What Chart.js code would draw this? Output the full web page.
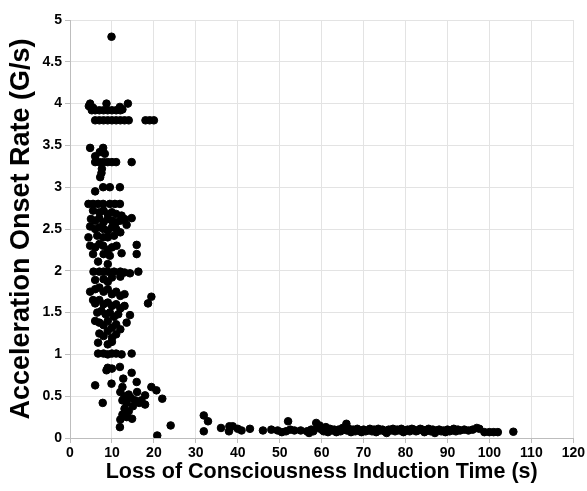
<!DOCTYPE html>
<html>
<head>
<meta charset="utf-8">
<script src="https://cdn.jsdelivr.net/npm/chart.js@4.4.1/dist/chart.umd.min.js"></script>
<style>
  html, body { margin: 0; padding: 0; background: #fff; }
  #wrap { width: 587px; height: 491px; }
</style>
</head>
<body>
<div id="wrap"><canvas id="myChart"></canvas></div>
<script>
// Eixos
const xTicks = [0, 10, 20, 30, 40, 50, 60, 70, 80, 90, 100, 110, 120]
const yTicks = [0, 0.5, 1, 1.5, 2, 2.5, 3, 3.5, 4, 4.5, 5]

// Punts [temps LOC (s), ritme d'acceleració (G/s)] llegits del gràfic
const clusterHigh = [
    [9.9, 4.8],
    [4.8, 4.0], [8.7, 4.0], [13.8, 4.0], [11.9, 3.96], [5.5, 3.95], [4.5, 3.97],
    [5.2, 3.92], [6, 3.92], [7, 3.92], [8, 3.92], [9, 3.92], [10, 3.92], [11, 3.92], [12, 3.92], [12.5, 3.93],
    [6, 3.8], [7, 3.8], [8, 3.8], [9, 3.8], [10, 3.8], [11, 3.8], [12, 3.8], [13, 3.8], [14, 3.8],
    [18, 3.8], [19, 3.8], [20, 3.8],
    [4.8, 3.47], [7.9, 3.47], [7.1, 3.42], [6, 3.37], [8.3, 3.4],
    [6, 3.3], [7, 3.3], [8, 3.3], [9, 3.3], [10, 3.3], [11, 3.3], [14.7, 3.3],
    [7.5, 3.17], [7.6, 3.22], [7.2, 3.12],
    [7.9, 3.0], [9.5, 3.0], [11.9, 3.0], [6, 2.95]
]

const clusterMid = [
    [4.4, 2.8], [5.5, 2.8], [6.7, 2.8], [7.9, 2.8], [9.5, 2.8], [10.7, 2.8], [11.9, 2.8],
    [5.5, 2.72], [7, 2.7], [8, 2.72], [9, 2.68], [10, 2.7], [11, 2.68], [12.3, 2.66], [14.7, 2.63],
    [5, 2.62], [6, 2.6], [7, 2.63], [8, 2.58], [9, 2.62], [10, 2.6], [11, 2.58], [12, 2.6], [13, 2.62],
    [4.8, 2.53], [6, 2.5], [7, 2.52], [8, 2.5], [9, 2.48], [10, 2.52], [11, 2.5], [12, 2.46], [13.5, 2.55],
    [4.4, 2.4], [6.5, 2.42], [7.9, 2.4], [9, 2.4], [10.5, 2.42],
    [4.8, 2.3], [6, 2.28], [7, 2.32], [7.9, 2.3], [9, 2.25], [10, 2.28], [11.1, 2.3], [12.3, 2.21],
    [15.9, 2.31], [15.9, 2.2], [5.5, 2.2], [8, 2.2], [9.5, 2.18],
    [6.7, 2.11], [9, 2.08],
    [5.6, 1.99], [7, 1.99], [8, 1.99], [9, 1.99], [10.5, 1.99], [12, 1.99], [13, 1.98], [14.3, 1.97], [16.3, 1.99],
    [6, 1.89], [8, 1.9], [9, 1.87], [12, 1.93], [10, 1.92],
    [4.8, 1.75], [6, 1.78], [7, 1.8], [8, 1.75], [9, 1.78], [10, 1.72], [11, 1.75], [12, 1.7], [13, 1.72],
    [19.4, 1.69], [18.6, 1.61],
    [5.5, 1.65], [6, 1.61], [7, 1.65], [8, 1.6], [9, 1.62], [10, 1.58], [11, 1.6], [12, 1.55], [13, 1.58],
    [6.5, 1.5], [7.5, 1.52], [8.5, 1.48], [9.5, 1.5], [10.5, 1.45], [11.5, 1.48], [14.3, 1.47],
    [6, 1.4], [7, 1.38], [8, 1.35], [9, 1.4], [10, 1.32], [11, 1.36], [12, 1.3], [13.5, 1.38],
    [7, 1.25], [8, 1.22], [9, 1.28], [10, 1.2], [11, 1.24], [6.7, 1.14], [9, 1.12], [10, 1.15],
    [6.7, 1.01], [8, 1.01], [9, 1.0], [10, 1.01], [11, 1.01], [12.3, 1.0], [14.7, 1.01]
]

const clusterLow = [
    [9, 0.84], [10, 0.83], [11.9, 0.85], [8.7, 0.81], [14.7, 0.78], [12.7, 0.71], [15.9, 0.67],
    [6, 0.63], [9.9, 0.65], [12.5, 0.61], [19.4, 0.61], [20.6, 0.57], [22, 0.47], [7.8, 0.42],
    [17.9, 0.51], [17.9, 0.4], [17, 0.45], [16, 0.55],
    [12, 0.55], [13, 0.5], [14, 0.52], [12.5, 0.45], [13.5, 0.42], [14.5, 0.48], [15, 0.38],
    [13, 0.35], [14, 0.32], [12.5, 0.28], [13.5, 0.25], [12, 0.22], [14.8, 0.23], [11.9, 0.13],
    [15.5, 0.45], [16.5, 0.42],
    [20.8, 0.03], [24, 0.15]
]

const tail = [
    [31.9, 0.27], [32.9, 0.2], [31.9, 0.08], [36, 0.12], [38, 0.14], [38.8, 0.14], [37.9, 0.08],
    [40, 0.11], [40.9, 0.09], [42.9, 0.11], [46, 0.09], [48, 0.1], [49.5, 0.09], [50.5, 0.07],
    [51.5, 0.08], [52, 0.2], [52.5, 0.1], [53.5, 0.09], [55, 0.09], [56.5, 0.08], [57, 0.06],
    [57.5, 0.1], [58, 0.08], [58.7, 0.18], [59, 0.12], [59.5, 0.15], [60, 0.1], [60.5, 0.08],
    [61, 0.13], [61.5, 0.07], [62, 0.11], [62.5, 0.09], [63, 0.1], [63.5, 0.07], [64, 0.1],
    [64.5, 0.08], [65, 0.12], [65.9, 0.17], [66, 0.09], [66.5, 0.11], [67, 0.07], [67.5, 0.1],
    [68, 0.08], [68.5, 0.11], [69, 0.09], [69.5, 0.07], [70, 0.1], [70.5, 0.08], [71, 0.09],
    [71.5, 0.11], [72, 0.08], [72.5, 0.1], [73, 0.07], [73.5, 0.11], [74, 0.09], [74.5, 0.1],
    [75, 0.08], [75.5, 0.06], [76, 0.1], [76.5, 0.09], [77, 0.11], [77.5, 0.08], [78, 0.1],
    [78.5, 0.09], [79, 0.11], [79.5, 0.07], [80, 0.09], [80.5, 0.1], [81, 0.08], [81.5, 0.11],
    [82, 0.1], [82.5, 0.08], [83, 0.09], [83.5, 0.11], [84, 0.1], [84.5, 0.07], [85, 0.09],
    [85.5, 0.11], [86, 0.08], [86.5, 0.1], [87, 0.06], [87.5, 0.09], [88, 0.1], [88.5, 0.08],
    [89, 0.09], [89.5, 0.07], [90, 0.1], [90.5, 0.08], [91, 0.09], [91.5, 0.11], [92, 0.08],
    [92.5, 0.1], [93, 0.09], [94, 0.1], [95, 0.09], [96, 0.1], [97, 0.12], [97.6, 0.11],
    [98.8, 0.07], [100, 0.07], [101, 0.07], [102, 0.07], [105.7, 0.075]
]

const xTitle = 'Loss of Consciousness Induction Time (s)'
const yTitle = 'Acceleration Onset Rate (G/s)'

const toPoints = (list) => list.map(p => ({ x: p[0], y: p[1] }))
const allPoints = [...clusterHigh, ...clusterMid, ...clusterLow, ...tail]

const fontFamily = '"Liberation Sans", Arial, sans-serif'
const tickFont = { family: fontFamily, size: 14, weight: 'bold' }

const ctx = document.getElementById('myChart').getContext('2d')
const chart = new Chart(ctx, {
    type: 'scatter',
    data: {
        datasets: [{
            data: toPoints(allPoints),
            backgroundColor: '#000',
            borderColor: '#000',
            pointRadius: 3.8,
            pointHoverRadius: 3.8
        }]
    },
    options: {
        responsive: true,
        maintainAspectRatio: false,
        animation: false,
        layout: { padding: { top: 20, right: 12, left: 0, bottom: 0 } },
        plugins: { legend: { display: false }, tooltip: { enabled: false } },
        scales: {
            x: {
                type: 'linear',
                min: 0, max: 120,
                afterBuildTicks: (scale) => { scale.ticks = xTicks.map(v => ({ value: v })) },
                afterFit: (scale) => { scale.height = 53 },
                grid: { color: '#e3e3e3', tickLength: 5, tickColor: '#bdbdbd' },
                border: { color: '#bdbdbd' },
                ticks: { color: '#000', font: tickFont, padding: 2, maxRotation: 0, callback: (v) => String(v) },
                title: { display: true, text: xTitle, color: '#000', font: { family: fontFamily, size: 21.5, weight: 'bold' }, padding: { top: 0, bottom: 6 } }
            },
            y: {
                type: 'linear',
                min: 0, max: 5,
                afterBuildTicks: (scale) => { scale.ticks = yTicks.map(v => ({ value: v })) },
                afterFit: (scale) => { scale.width = 70 },
                grid: { color: '#e3e3e3', tickLength: 5, tickColor: '#bdbdbd' },
                border: { color: '#bdbdbd' },
                ticks: { color: '#000', font: tickFont, padding: 3, callback: (v) => String(v) },
                title: { display: true, text: yTitle, color: '#000', font: { family: fontFamily, size: 27, weight: 'bold' }, padding: { top: 5, bottom: 0 } }
            }
        }
    }
})
</script>
</body>
</html>
